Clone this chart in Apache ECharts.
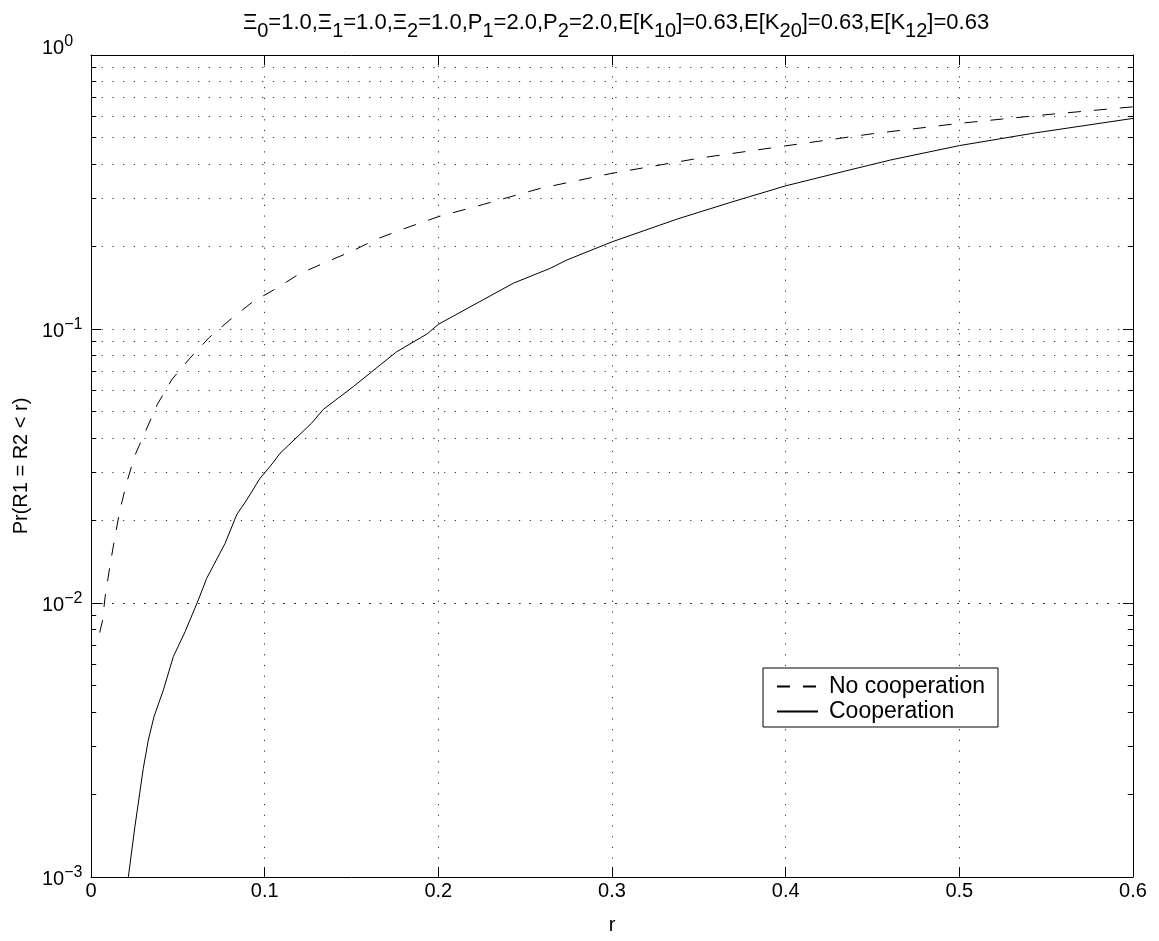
<!DOCTYPE html>
<html>
<head>
<meta charset="utf-8">
<title>Pr(R1 = R2 &lt; r)</title>
<script src="https://cdn.jsdelivr.net/npm/echarts@6/dist/echarts.min.js"></script>
</head>
<body style="margin:0">
<div id="main" style="width:1159px;height:941px;"></div>
<script>
// values
var rNoCoop = [0.005, 0.0066, 0.0081, 0.0111, 0.0137, 0.0167, 0.0207, 0.0252, 0.0317, 0.0383,
    0.0467, 0.057, 0.068, 0.08, 0.093, 0.1066, 0.12, 0.135, 0.15, 0.1646, 0.18, 0.2, 0.226,
    0.2587, 0.3, 0.351, 0.4, 0.45, 0.5, 0.548, 0.6];
var pNoCoop = [0.0078, 0.0086, 0.0105, 0.0139, 0.0173, 0.0219, 0.0277, 0.0345, 0.0428, 0.0532,
    0.0656, 0.0783, 0.093, 0.108, 0.1255, 0.1405, 0.159, 0.175, 0.192, 0.213, 0.232, 0.257, 0.285,
    0.326, 0.37, 0.421, 0.466, 0.516, 0.563, 0.604, 0.647];

var rCoop = [0.0215, 0.0253, 0.0301, 0.033, 0.0363, 0.0417, 0.0474, 0.0542, 0.0618, 0.0666,
    0.0772, 0.0839, 0.0897, 0.0973, 0.1031, 0.1089, 0.127, 0.1338, 0.151, 0.176, 0.1935, 0.2,
    0.224, 0.2433, 0.2644, 0.274, 0.3, 0.318, 0.3376, 0.3684, 0.4, 0.4342, 0.4605, 0.5, 0.544, 0.6];
var pCoop = [0.001, 0.00153, 0.00249, 0.00316, 0.00385, 0.00482, 0.00637, 0.00786, 0.01026, 0.0123,
    0.0165, 0.021, 0.0238, 0.0285, 0.0315, 0.0352, 0.0453, 0.0509, 0.0616, 0.0826, 0.0959, 0.104,
    0.126, 0.147, 0.1665, 0.1786, 0.208, 0.228, 0.252, 0.29, 0.333, 0.377, 0.414, 0.467, 0.52, 0.587];

var decades = [0.001, 0.01, 0.1];
var minorSteps = [2, 3, 4, 5, 6, 7, 8, 9];

var chart = echarts.init(document.getElementById('main'));
var FONT = '"Liberation Sans", Arial, Helvetica, sans-serif';
var DOT = [1.2, 9.5];

function pairs(xs, ys) {
    return xs.map(function (x, i) { return [x, ys[i]]; });
}

// log minor positions 2..9 of every decade
var minorVals = [];
decades.forEach(function (d) {
    minorSteps.forEach(function (m) { minorVals.push(+(d * m).toPrecision(3)); });
});

// short inward ticks at the minor positions, on both sides of the box
var minorTicks = [];
minorVals.forEach(function (v) {
    minorTicks.push([{ coord: [0, v] }, { coord: [0.003, v] }]);
    minorTicks.push([{ coord: [0.597, v] }, { coord: [0.6, v] }]);
});

function expLabel(value) {
    var e = Math.round(Math.log10(value));
    if (e === 0) return '{b0|10}{e0|0}';
    return '{b|10}{e|' + (e < 0 ? '\u2212' + (-e) : e) + '}';
}

var title = '{m|\u039E}{s|0}{m|=1.0,\u039E}{s|1}{m|=1.0,\u039E}{s|2}{m|=1.0,P}{s|1}{m|=2.0,P}{s|2}' +
    '{m|=2.0,E[K}{s|10}{m|]=0.63,E[K}{s|20}{m|]=0.63,E[K}{s|12}{m|]=0.63}';

var option = {
    animation: false,
    backgroundColor: '#fff',
    title: {
        text: title,
        left: 611,
        top: 7,
        textAlign: 'center',
        textStyle: {
            fontFamily: FONT,
            fontWeight: 'normal',
            color: '#000',
            rich: {
                m: { fontFamily: FONT, fontWeight: 'normal', fontSize: 22, color: '#000', verticalAlign: 'top' },
                s: { fontFamily: FONT, fontWeight: 'normal', fontSize: 20, color: '#000', verticalAlign: 'top', padding: [9, 0, 0, 0] }
            }
        }
    },
    grid: { left: 91, right: 26, top: 55, bottom: 64 },
    legend: {
        data: ['No cooperation', 'Cooperation'],
        orient: 'vertical',
        left: 763,
        top: 668,
        backgroundColor: '#fff',
        borderColor: '#000',
        borderWidth: 1,
        padding: [7, 13, 4, 13],
        itemWidth: 41,
        itemHeight: 14,
        itemGap: 2,
        itemStyle: { opacity: 0 },
        textStyle: { fontFamily: FONT, fontSize: 23, color: '#000', padding: [0, 0, 0, 6] }
    },
    xAxis: [{
        type: 'value',
        min: 0,
        max: 0.6,
        interval: 0.1,
        name: 'r',
        nameLocation: 'middle',
        nameGap: 38,
        nameTextStyle: { fontFamily: FONT, fontSize: 20, color: '#000' },
        axisLine: { onZero: false, lineStyle: { color: '#000', width: 1 } },
        axisTick: { inside: true, length: 10, lineStyle: { color: '#000' } },
        axisLabel: { fontFamily: FONT, fontSize: 20, color: '#000', margin: 4 },
        splitLine: { show: true, lineStyle: { color: '#333', type: DOT, width: 1 } }
    }, {
        type: 'value',
        position: 'top',
        min: 0,
        max: 0.6,
        interval: 0.1,
        axisLine: { onZero: false, lineStyle: { color: '#000', width: 1 } },
        axisTick: { inside: true, length: 10, lineStyle: { color: '#000' } },
        axisLabel: { show: false },
        splitLine: { show: false }
    }],
    yAxis: [{
        type: 'log',
        logBase: 10,
        min: 0.001,
        max: 1,
        name: 'Pr(R1 = R2 < r)',
        nameLocation: 'middle',
        nameGap: 56,
        nameRotate: 90,
        nameTextStyle: { fontFamily: FONT, fontSize: 20, color: '#000' },
        axisLine: { onZero: false, lineStyle: { color: '#000', width: 1 } },
        axisTick: { inside: true, length: 10, lineStyle: { color: '#000' } },
        axisLabel: {
            align: 'left',
            margin: 49,
            formatter: expLabel,
            rich: {
                b: { fontFamily: FONT, fontSize: 20, color: '#000', verticalAlign: 'bottom' },
                e: { fontFamily: FONT, fontSize: 16, color: '#000', verticalAlign: 'bottom', padding: [0, 0, 8, 0] },
                b0: { fontFamily: FONT, fontSize: 20, color: '#000', verticalAlign: 'bottom', padding: [0, 0, 18, 0] },
                e0: { fontFamily: FONT, fontSize: 16, color: '#000', verticalAlign: 'bottom', padding: [0, 0, 26, 0] }
            }
        },
        splitLine: { show: true, lineStyle: { color: '#333', type: DOT, width: 1 } }
    }, {
        type: 'log',
        logBase: 10,
        min: 0.001,
        max: 1,
        position: 'right',
        axisLine: { onZero: false, lineStyle: { color: '#000', width: 1 } },
        axisTick: { inside: true, length: 10, lineStyle: { color: '#000' } },
        axisLabel: { show: false },
        splitLine: { show: false }
    }],
    series: [{
        name: 'grid',
        type: 'line',
        data: [],
        silent: true,
        markLine: {
            silent: true,
            symbol: 'none',
            label: { show: false },
            lineStyle: { color: '#333', type: DOT, width: 1 },
            data: minorVals.map(function (v) { return { yAxis: v }; })
        }
    }, {
        name: 'ticks',
        type: 'line',
        data: [],
        silent: true,
        markLine: {
            silent: true,
            symbol: 'none',
            label: { show: false },
            lineStyle: { color: '#000', type: 'solid', width: 1 },
            data: minorTicks
        }
    }, {
        name: 'No cooperation',
        type: 'line',
        data: pairs(rNoCoop, pNoCoop),
        showSymbol: false,
        symbol: 'none',
        color: '#000',
        lineStyle: { color: '#000', width: 1, type: [13, 13] },
        z: 5
    }, {
        name: 'Cooperation',
        type: 'line',
        data: pairs(rCoop, pCoop),
        showSymbol: false,
        symbol: 'none',
        color: '#000',
        lineStyle: { color: '#000', width: 1, type: 'solid' },
        z: 5
    }]
};

chart.setOption(option);
</script>
</body>
</html>
